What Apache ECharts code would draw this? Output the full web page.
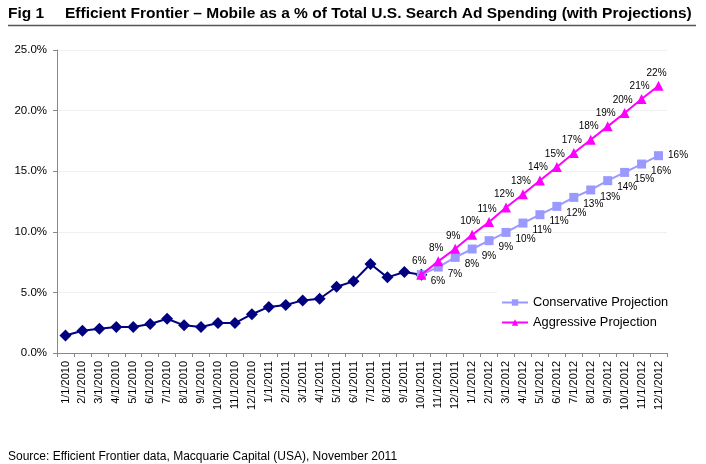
<!DOCTYPE html>
<html>
<head>
<meta charset="utf-8">
<script src="https://cdn.jsdelivr.net/npm/echarts@6/dist/echarts.min.js"></script>
<style>
html,body{margin:0;padding:0;background:#fff;}
#chart{width:706px;height:464px;}
</style>
</head>
<body>
<div id="chart"></div>
<script>
var categories = ['1/1/2010','2/1/2010','3/1/2010','4/1/2010','5/1/2010','6/1/2010','7/1/2010','8/1/2010','9/1/2010','10/1/2010','11/1/2010','12/1/2010',
  '1/1/2011','2/1/2011','3/1/2011','4/1/2011','5/1/2011','6/1/2011','7/1/2011','8/1/2011','9/1/2011','10/1/2011','11/1/2011','12/1/2011',
  '1/1/2012','2/1/2012','3/1/2012','4/1/2012','5/1/2012','6/1/2012','7/1/2012','8/1/2012','9/1/2012','10/1/2012','11/1/2012','12/1/2012'];

var historical = [1.45,1.84,2.0,2.14,2.14,2.39,2.83,2.28,2.14,2.47,2.47,3.2,
  3.8,3.96,4.34,4.48,5.47,5.91,7.34,6.24,6.68,6.46,null,null,
  null,null,null,null,null,null,null,null,null,null,null,null];

var conservative = [null,null,null,null,null,null,null,null,null,null,null,null,
  null,null,null,null,null,null,null,null,null,6.46,7.09,7.89,
  8.58,9.27,9.95,10.72,11.41,12.1,12.84,13.45,14.22,14.9,15.59,16.28];

var aggressive = [null,null,null,null,null,null,null,null,null,null,null,null,
  null,null,null,null,null,null,null,null,null,6.46,7.56,8.6,
  9.76,10.8,12.0,13.1,14.24,15.35,16.5,17.6,18.7,19.8,20.96,22.05];

var yTicks = [0, 5, 10, 15, 20, 25];

var FONT = 'Liberation Sans, Arial, Helvetica, sans-serif';
var chart = echarts.init(document.getElementById('chart'), null, {renderer:'canvas'});

function pct(p){ return Math.round(p.value) + '%'; }

var consData = conservative.map(function(v, i){
  if (i === conservative.length - 1) return {value: v, label: {offset: [0, 0]}};
  return v;
});

var option = {
  backgroundColor: '#fff',
  animation: false,
  graphic: [
    {type:'text', left: 8, top: 6, style:{text:'Fig 1', font:'bold 15.5px ' + FONT, fill:'#000'}},
    {type:'text', left: 65, top: 6, style:{text:'Efficient Frontier \u2013 Mobile as a % of Total U.S. Search Ad Spending (with Projections)', font:'bold 15.5px ' + FONT, fill:'#000'}},
    {type:'line', shape:{x1:8, y1:25.5, x2:696, y2:25.5}, style:{stroke:'#555', lineWidth:1.5}},
    {type:'text', left: 8, top: 451, style:{text:'Source: Efficient Frontier data, Macquarie Capital (USA), November 2011', font:'12px ' + FONT, fill:'#000'}}
  ],
  grid: {left: 57, right: 39, top: 50, bottom: 111, containLabel: false},
  legend: {
    orient: 'vertical',
    left: 497, top: 291,
    backgroundColor: '#fff',
    padding: [5, 6, 5, 4],
    itemWidth: 26, itemHeight: 8, itemGap: 7,
    textStyle: {fontSize: 12.8, fontFamily: FONT, color: '#000'},
    data: ['Conservative Projection', 'Aggressive Projection']
  },
  xAxis: {
    type: 'category',
    data: categories,
    boundaryGap: true,
    axisLine: {lineStyle: {color: '#888', width: 1}},
    axisTick: {show: true, alignWithLabel: false, length: 4, lineStyle: {color: '#888'}},
    axisLabel: {rotate: 90, interval: 0, fontSize: 11, fontFamily: FONT, color: '#000', margin: 8}
  },
  yAxis: {
    type: 'value',
    min: 0, max: 25, interval: 5,
    axisLine: {show: true, lineStyle: {color: '#888', width: 1}},
    axisTick: {show: true, length: 4, lineStyle: {color: '#888'}},
    splitLine: {show: true, lineStyle: {color: '#f0f0f0', width: 1}},
    axisLabel: {fontSize: 11.5, fontFamily: FONT, color: '#000', margin: 10,
      formatter: function(v){ return yTicks.indexOf(v) >= 0 ? v.toFixed(1) + '%' : ''; }}
  },
  series: [
    {
      name: 'Historical', type: 'line', data: historical,
      symbol: 'diamond', symbolSize: 12, showSymbol: true,
      lineStyle: {color: '#000080', width: 2},
      itemStyle: {color: '#000080'},
      connectNulls: false, z: 2
    },
    {
      name: 'Conservative Projection', type: 'line', data: consData,
      symbol: 'rect', symbolSize: 9,
      lineStyle: {color: '#9999FF', width: 2},
      itemStyle: {color: '#9999FF'},
      label: {show: true, position: 'right', distance: 5, offset: [0, 7], formatter: pct,
        fontSize: 10, fontFamily: FONT, color: '#000'},
      z: 3
    },
    {
      name: 'Aggressive Projection', type: 'line', data: aggressive,
      symbol: 'triangle', symbolSize: 10,
      lineStyle: {color: '#FF00FF', width: 2},
      itemStyle: {color: '#FF00FF'},
      label: {show: true, position: 'top', distance: 3, offset: [-2, 0], formatter: pct,
        fontSize: 10, fontFamily: FONT, color: '#000'},
      z: 4
    }
  ]
};
chart.setOption(option);
</script>
</body>
</html>
